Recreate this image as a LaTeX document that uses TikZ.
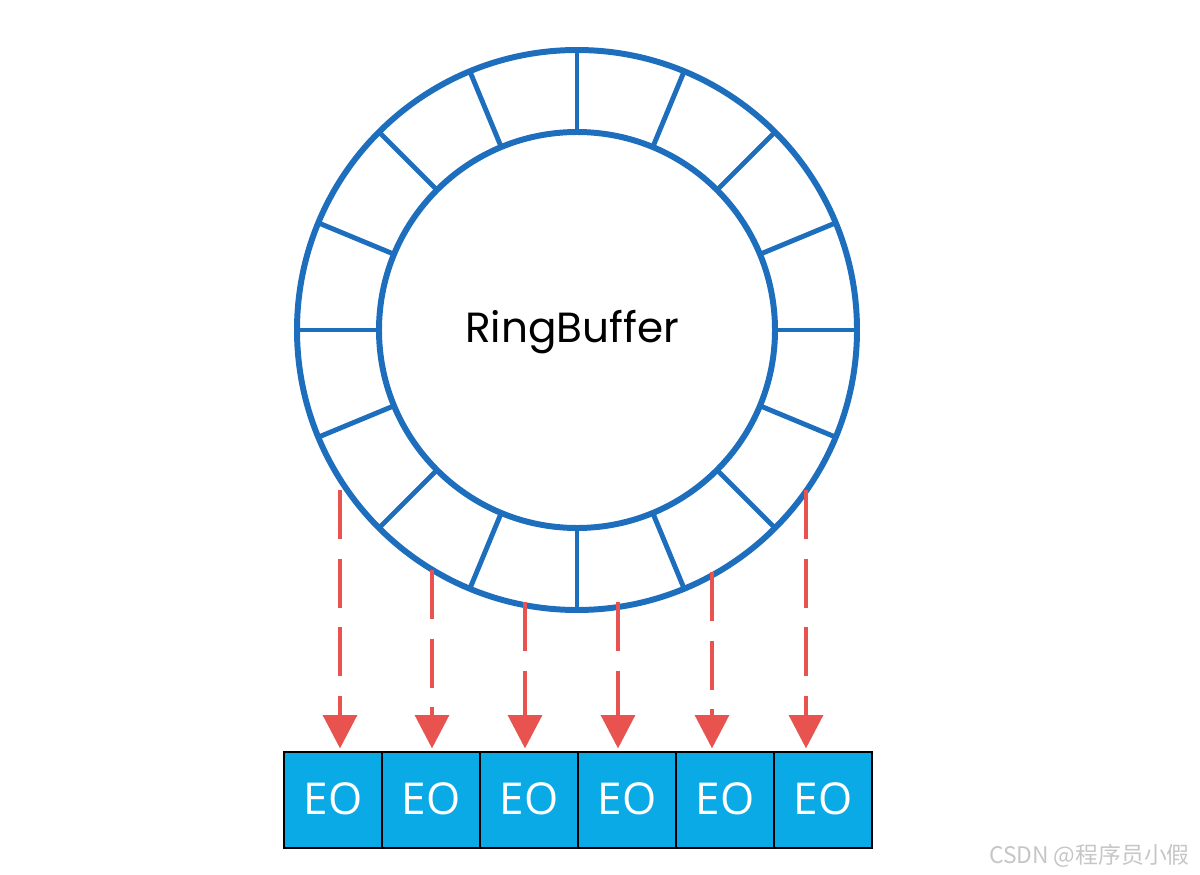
\documentclass[tikz,border=0pt]{standalone}
\usepackage{fontspec}
\usepackage{xcolor}
\usepackage{tikz}
\usetikzlibrary{arrows.meta,positioning}
\newfontfamily\ringfont{Poppins}
\newfontfamily\eofont{Open Sans}
\newfontfamily\cjkfont{Noto Sans CJK SC}
\definecolor{ringblue}{HTML}{1E6EBE}
\definecolor{arrred}{HTML}{E8524F}
\definecolor{eocyan}{HTML}{0AAAE6}

\begin{document}
\begin{tikzpicture}[
  x=0.02cm, y=-0.02cm,
  ring/.style  = {draw=ringblue, line width=3.4pt},
  spoke/.style = {draw=ringblue, line width=2.8pt},
  eobox/.style = {draw=black, line width=1.2pt, fill=eocyan, outer sep=0pt,
                  minimum width=1.96cm, minimum height=1.92cm, inner sep=0pt,
                  text=white, font=\eofont\fontsize{25}{25}\selectfont},
  das/.style   = {-{Triangle[length=19pt,width=19pt]}, draw=arrred,
                  line width=2.8pt, dash pattern=on 28pt off 11pt}
]
\useasboundingbox (0,0) rectangle (1200,875);
%% -- Ring buffer --
\node[font=\ringfont\fontsize{24}{24}\selectfont] (buf) at (572,332) {RingBuffer};
\coordinate (ctr) at (577,330);
\draw[ring] (ctr) circle[radius=280];
\draw[ring] (ctr) circle[radius=198];
\foreach \a in {0,22.5,...,337.5}
  \draw[spoke] (ctr) ++(\a:198) -- ++(\a:82);
%% -- Event slots --
\foreach \i in {1,...,6}
  \node[eobox] (e\i) at ({235+98*\i},800) {\raisebox{2pt}{EO}};
%% -- Dispatch arrows --
\foreach \x/\y [count=\i] in {340/490,432/570,525/602,618/602,712/572,806/490}{
  \coordinate (s\i) at (\x,\y);
  \draw[das] (s\i) -- ([yshift=2pt]s\i |- e\i.north);}
%% -- Watermark --
\node[anchor=east, text=gray!45, font=\cjkfont\fontsize{13}{13}\selectfont]
  (mark) at (1196,856) {CSDN @程序员小假};
\end{tikzpicture}
\end{document}
